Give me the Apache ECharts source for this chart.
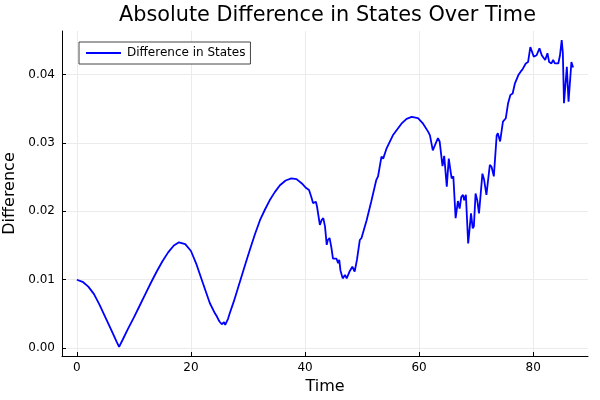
<!DOCTYPE html>
<html>
<head>
<meta charset="utf-8">
<script src="https://cdn.jsdelivr.net/npm/echarts@6/dist/echarts.min.js"></script>
<style>html,body{margin:0;padding:0;background:#fff}#c{width:600px;height:400px}</style>
</head>
<body>
<div id="c"></div>
<script>
const times = [0,1,2,3,4,5,6,7,7.4,8,9,10,11,12,13,14,15,16,17,17.9,19,20,20.9,22.1,23.3,24.2,24.5,24.8,25.0,25.2,25.4,25.6,25.8,26.0,26.2,26.5,26.8,27.5,28.5,29.5,30.3,31.2,32.1,33,33.8,34.7,35.6,36.6,37.6,38.5,39.4,40.2,40.7,41.1,41.4,41.9,42.1,42.6,42.9,43.2,43.5,43.8,44.0,44.3,44.6,44.9,45.2,45.5,45.8,46.0,46.2,46.6,47.0,47.3,47.8,48.3,48.7,49.1,49.6,49.9,50.8,51.6,52.5,52.8,53.4,53.7,54.3,55.4,56.9,57.8,58.7,59.8,60.7,61.6,61.9,62.4,62.8,63.3,63.6,64.1,64.4,64.6,64.85,65.2,65.7,66.0,66.4,66.8,67.1,67.4,67.7,67.9,68.2,68.6,68.8,69.1,69.4,69.6,69.9,70.2,70.5,71.1,71.4,71.8,72.4,72.7,73.1,73.6,73.8,74.2,74.7,75.2,75.6,76.0,76.4,76.8,77.4,77.8,78.1,78.7,79.1,79.5,79.8,80.1,80.6,81.1,81.5,81.8,82.1,82.5,82.8,83.2,83.5,83.8,84.1,84.4,84.7,85.0,85.2,85.4,85.9,86.2,86.7,87.0];
const diffs = [0.0100,0.0097,0.0090,0.0079,0.0063,0.0045,0.0027,0.0009,0.0002,0.0012,0.0029,0.0045,0.0062,0.0079,0.0096,0.0112,0.0127,0.0140,0.0150,0.01547,0.0152,0.0142,0.0124,0.0095,0.0066,0.0051,0.0047,0.0042,0.0039,0.0040,0.0035,0.0034,0.0038,0.0034,0.0036,0.0043,0.0051,0.0068,0.0095,0.0122,0.0143,0.0166,0.0187,0.0203,0.0216,0.0228,0.0238,0.0245,0.0248,0.0247,0.0241,0.0234,0.0231,0.0221,0.0212,0.0214,0.0207,0.0180,0.0187,0.0190,0.0178,0.0151,0.0158,0.0161,0.0148,0.0131,0.0129,0.0131,0.0124,0.0129,0.0114,0.0102,0.0107,0.0102,0.0112,0.0119,0.0112,0.0129,0.0158,0.0161,0.0187,0.0214,0.0246,0.0251,0.0280,0.0277,0.0292,0.0311,0.0328,0.0335,0.0338,0.0336,0.0328,0.0316,0.0311,0.0289,0.0297,0.0307,0.0302,0.0266,0.0281,0.0279,0.0236,0.0277,0.0248,0.0251,0.0190,0.0215,0.0204,0.0221,0.0224,0.0216,0.0224,0.0153,0.0170,0.0197,0.0175,0.0178,0.0226,0.0216,0.0197,0.0255,0.0246,0.0224,0.0268,0.0265,0.0251,0.0311,0.0314,0.0302,0.0331,0.0336,0.0358,0.0370,0.0372,0.0387,0.0399,0.0404,0.0407,0.0416,0.0418,0.0440,0.0440,0.0426,0.0428,0.0438,0.0428,0.0428,0.0421,0.0431,0.0418,0.0416,0.0421,0.0416,0.0418,0.0416,0.0428,0.0450,0.0431,0.0358,0.0411,0.0360,0.0418,0.0410];
const xTicks = [0,20,40,60,80];
const yTicks = [0,0.01,0.02,0.03,0.04];
const seriesName = 'Difference in States';

const font = 'DejaVu Sans';
const chart = echarts.init(document.getElementById('c'), null, {renderer:'canvas'});
const data = times.map((t,i)=>[t,diffs[i]]);
chart.setOption({
  animation:false,
  backgroundColor:'#fff',
  title:{text:'Absolute Difference in States Over Time',left:114,top:0,
    textStyle:{fontFamily:font,fontSize:20.8,fontWeight:'normal',color:'#000'}},
  legend:{show:true,left:79,top:42,right:'auto',bottom:'auto',orient:'vertical',padding:[5,5,5,7],itemWidth:35,itemHeight:2,itemGap:5,
    icon:'rect',borderColor:'#444',borderWidth:1,borderRadius:0,backgroundColor:'#fff',
    textStyle:{fontFamily:font,fontSize:12,color:'#000',padding:[0,0,0,1]},data:[seriesName]},
  grid:{left:62,right:12,top:31,bottom:44,containLabel:false,outerBoundsMode:'none'},
  xAxis:{type:'value',min:-2.61,max:89.61,
    name:'Time',nameLocation:'middle',nameGap:23,nameTextStyle:{fontFamily:font,fontSize:16,color:'#000'},
    axisLine:{show:true,onZero:false,lineStyle:{color:'#000',width:1}},
    axisTick:{show:true,inside:true,length:4,customValues:xTicks,lineStyle:{color:'#000'}},
    axisLabel:{customValues:xTicks,fontFamily:font,fontSize:12,color:'#000',margin:6},
    splitLine:{show:true,lineStyle:{color:'#ebebeb',width:1}}},
  yAxis:{type:'value',min:-0.00114,max:0.04634,
    name:'Difference',nameLocation:'middle',nameGap:39,nameTextStyle:{fontFamily:font,fontSize:16,color:'#000'},
    axisLine:{show:true,onZero:false,lineStyle:{color:'#000',width:1}},
    axisTick:{show:true,inside:true,length:4,customValues:yTicks,lineStyle:{color:'#000'}},
    axisLabel:{customValues:yTicks,fontFamily:font,fontSize:12,color:'#000',margin:7,formatter:v=>v.toFixed(2)},
    splitLine:{show:true,lineStyle:{color:'#ebebeb',width:1}}},
  series:[{name:seriesName,type:'line',data:data,symbol:'none',showSymbol:false,
    lineStyle:{color:'#0000ff',width:1.8},itemStyle:{color:'#0000ff'}}]
});
</script>
</body>
</html>
